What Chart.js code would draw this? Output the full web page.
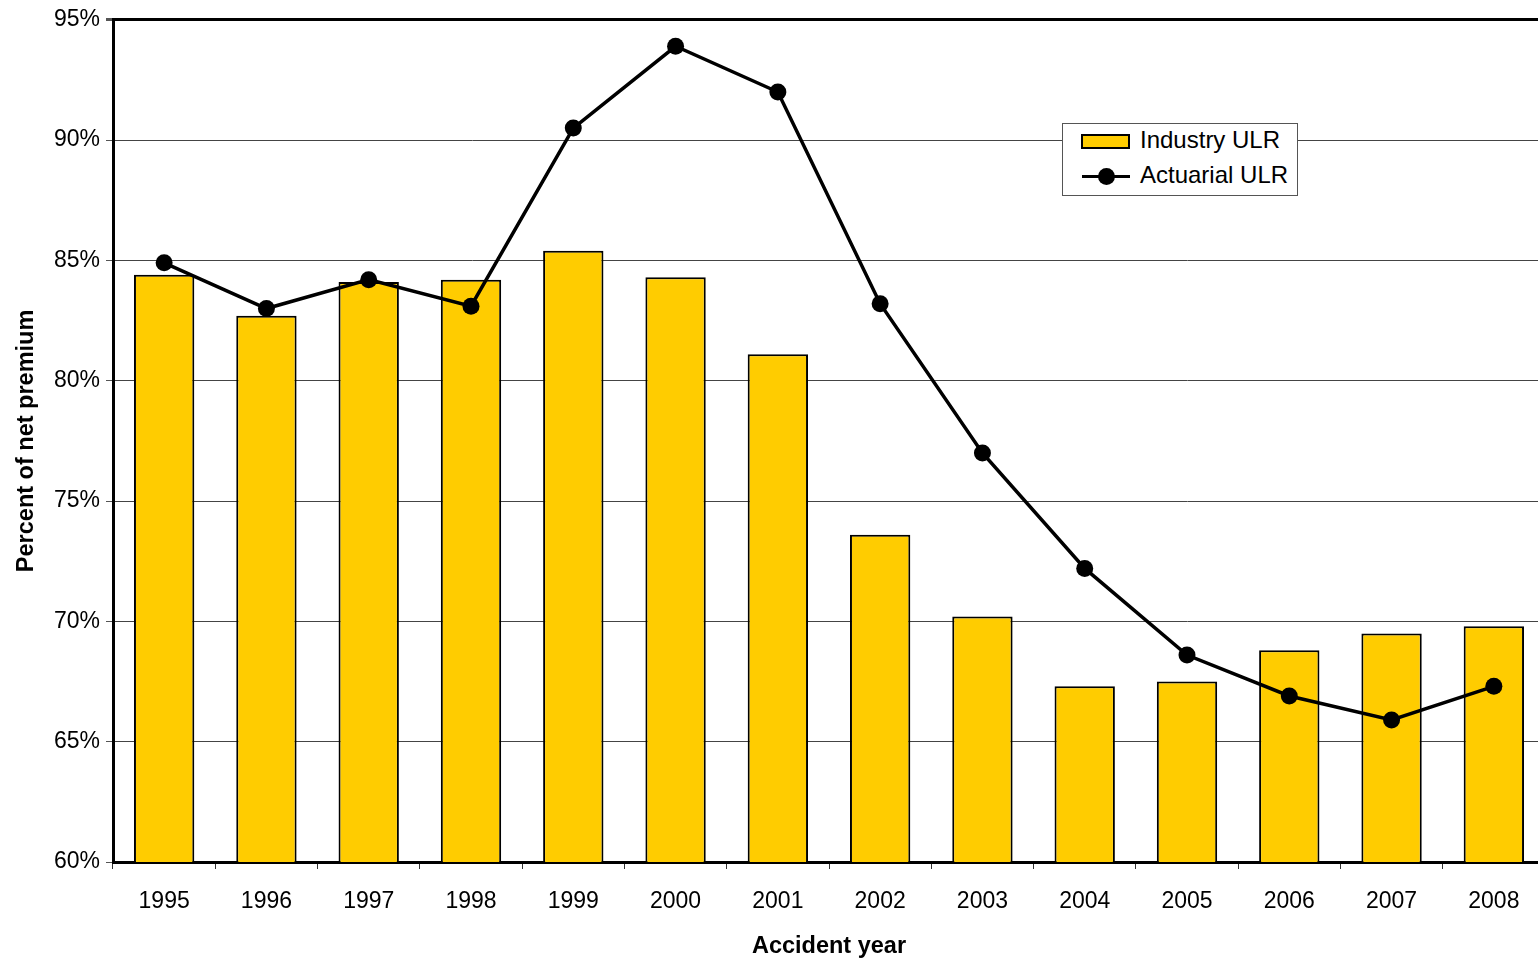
<!DOCTYPE html>
<html>
<head>
<meta charset="utf-8">
<title>Industry vs Actuarial ULR</title>
<script src="https://cdn.jsdelivr.net/npm/chart.js@4.4.1/dist/chart.umd.min.js"></script>
<style>
    html, body { margin: 0; padding: 0; background: #fff; overflow: hidden; }
    #wrap { position: relative; width: 1538px; height: 962px; overflow: hidden; }
    #chart { position: absolute; left: 0; top: 0; }
    #legend {
        position: absolute; left: 1062px; top: 123px; width: 234px; height: 71px;
        background: #fff; border: 1px solid #555; font-family: "Liberation Sans", Arial, sans-serif;
        font-size: 24px; color: #000;
    }
    .swatch { position: absolute; left: 18px; width: 49px; height: 15px; background: #FFCC00; border: 2px solid #000; box-sizing: border-box; }
    .lsample { position: absolute; left: 19px; width: 48px; height: 3px; background: #000; }
    .ldot { position: absolute; left: 16px; top: -7px; width: 17px; height: 17px; border-radius: 50%; background: #000; }
    .ltext { position: absolute; left: 77px; white-space: nowrap; }
</style>
</head>
<body>
<div id="wrap">
    <canvas id="chart" width="1560" height="962"></canvas>
    <div id="legend">
        <div class="swatch" style="top:10px"></div>
        <div class="ltext" style="top:2px">Industry ULR</div>
        <div class="lsample" style="top:51px"><div class="ldot"></div></div>
        <div class="ltext" style="top:37px">Actuarial ULR</div>
    </div>
</div>
<script>
// ======================================================
// DATA
// ======================================================
const YEARS = ["1995", "1996", "1997", "1998", "1999", "2000", "2001",
               "2002", "2003", "2004", "2005", "2006", "2007", "2008"];

// Industry ULR (bars), percent of net premium
const INDUSTRY_ULR = [84.4, 82.7, 84.1, 84.2, 85.4, 84.3, 81.1,
                      73.6, 70.2, 67.3, 67.5, 68.8, 69.5, 69.8];

// Actuarial ULR (line), percent of net premium
const ACTUARIAL_ULR = [84.9, 83.0, 84.2, 83.1, 90.5, 93.9, 92.0,
                       83.2, 77.0, 72.2, 68.6, 66.9, 65.9, 67.3];

const Y_MIN = 60, Y_MAX = 95, Y_STEP = 5;

const FONT = "'Liberation Sans', Arial, sans-serif";

// ======================================================
// CHART
// ======================================================
function initChart() {
    new Chart(document.getElementById("chart"), {
        type: "bar",
        data: {
            labels: YEARS,
            datasets: [
                {
                    type: "line",
                    label: "Actuarial ULR",
                    data: ACTUARIAL_ULR,
                    borderColor: "#000",
                    backgroundColor: "#000",
                    borderWidth: 3.5,
                    pointRadius: 8.5,
                    pointBackgroundColor: "#000",
                    pointBorderWidth: 0,
                    tension: 0,
                    order: 0
                },
                {
                    type: "bar",
                    label: "Industry ULR",
                    data: INDUSTRY_ULR,
                    backgroundColor: "#FFCC00",
                    borderColor: "#000",
                    borderWidth: 2,
                    barPercentage: 0.59,
                    categoryPercentage: 1.0,
                    order: 1
                }
            ]
        },
        options: {
            responsive: false,
            animation: false,
            devicePixelRatio: 1,
            // plot area runs past the right edge of the window, as in the source
            layout: { padding: { top: 18, right: 15, left: 0, bottom: 0 } },
            plugins: {
                legend: { display: false },
                tooltip: { enabled: false }
            },
            scales: {
                x: {
                    grid: {
                        offset: true,
                        drawOnChartArea: false,
                        drawTicks: true,
                        tickLength: 7,
                        color: "#333",
                        lineWidth: 1
                    },
                    border: { display: true, color: "#000", width: 3 },
                    ticks: {
                        color: "#000",
                        font: { family: FONT, size: 23 },
                        padding: 19,
                        maxRotation: 0,
                        autoSkip: false
                    },
                    title: {
                        display: true,
                        text: "Accident year",
                        color: "#000",
                        font: { family: FONT, size: 23.5, weight: "bold" },
                        padding: { top: 0, bottom: 1 }
                    },
                    afterFit: (scale) => { scale.height = 100; }
                },
                y: {
                    min: Y_MIN,
                    max: Y_MAX,
                    grid: {
                        color: (ctx) => ctx.tick && ctx.tick.value === Y_MAX ? "#000" : "#444",
                        lineWidth: (ctx) => ctx.tick && ctx.tick.value === Y_MAX ? 3 : 1,
                        tickColor: "#555",
                        tickLength: 7,
                        drawTicks: true
                    },
                    border: { display: true, color: "#000", width: 3 },
                    ticks: {
                        stepSize: Y_STEP,
                        color: "#000",
                        padding: 6,
                        font: { family: FONT, size: 23 },
                        callback: (v) => v + "%"
                    },
                    title: {
                        display: true,
                        text: "Percent of net premium",
                        color: "#000",
                        font: { family: FONT, size: 23.5, weight: "bold" },
                        padding: { top: 12, bottom: 0 }
                    },
                    afterFit: (scale) => { scale.width = 113; }
                }
            }
        }
    });
}

window.onload = () => {
    initChart();
};
</script>
</body>
</html>
